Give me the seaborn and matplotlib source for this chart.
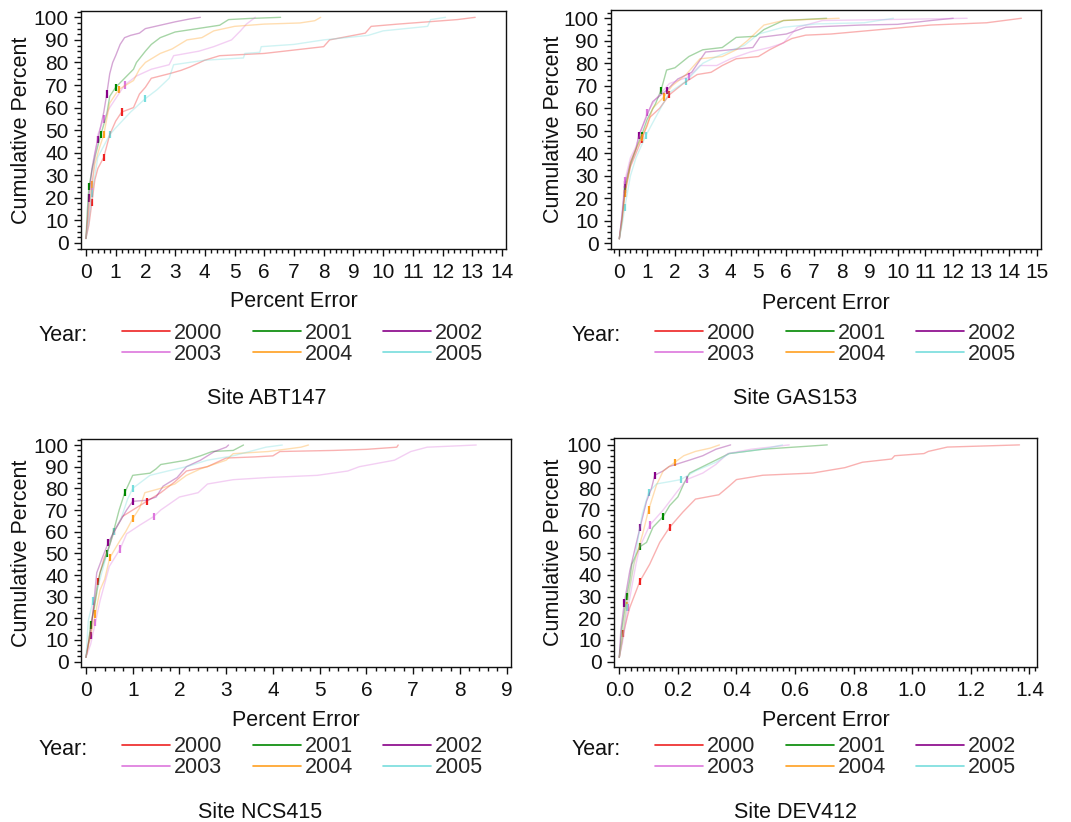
import numpy as np
import pandas as pd
import seaborn as sns
import matplotlib.pyplot as plt
from matplotlib.lines import Line2D
from matplotlib.ticker import MultipleLocator, FormatStrFormatter

years = ['2000', '2001', '2002', '2003', '2004', '2005']
cores = ['#EE2222', '#008800', '#880088', '#DD77DD', '#FFA020', '#77DDDD']

# ---- Site ABT147 ----
abt_x00 = [0, 0.1, 0.2, 0.3, 0.4, 0.6, 0.8, 1.0, 1.2, 1.6, 1.8, 2.0, 2.2, 2.8, 3.2, 3.5, 4.0, 4.5, 6.0, 7.0, 8.0, 8.2, 9.0, 9.4, 9.6, 10.5, 11.5, 12.5, 13.1]
abt_y00 = [2, 8, 18, 28, 33, 38, 48, 54, 58, 60, 66, 69, 73, 75, 76.5, 78, 81, 83, 84, 85.5, 87, 90, 92, 93, 96, 97, 98, 99, 100]
abt_x01 = [0, 0.05, 0.1, 0.2, 0.3, 0.5, 0.7, 0.8, 1.0, 1.3, 1.6, 1.7, 2.0, 2.2, 2.5, 3.0, 3.5, 4.0, 4.5, 4.8, 5.5, 6.55]
abt_y01 = [2, 15, 25, 32, 38, 48, 57, 65, 69, 73, 77, 80, 85, 88, 91, 93.5, 94.5, 95.5, 96.5, 99, 99.5, 100]
abt_x02 = [0, 0.05, 0.1, 0.2, 0.3, 0.4, 0.5, 0.6, 0.7, 0.8, 0.9, 1.0, 1.15, 1.3, 1.5, 1.8, 2.0, 2.5, 3.0, 3.5, 3.85]
abt_y02 = [2, 10, 20, 33, 40, 46, 52, 58, 66, 75, 80, 83, 88, 91, 92, 93, 95, 96.5, 98, 99.3, 100]
abt_x03 = [0, 0.1, 0.2, 0.3, 0.4, 0.6, 0.8, 1.1, 1.3, 1.7, 2.2, 2.8, 2.95, 3.8, 4.3, 4.9, 5.2, 5.4, 5.7]
abt_y03 = [2, 12, 25, 38, 48, 55, 60, 66, 70, 74, 77, 79, 83, 85, 87, 90, 94, 97, 100]
abt_x04 = [0, 0.1, 0.2, 0.3, 0.45, 0.6, 0.7, 0.8, 1.1, 1.6, 1.8, 2.0, 2.5, 2.9, 3.4, 3.9, 4.3, 5.0, 6.0, 7.2, 7.7, 7.9]
abt_y04 = [2, 15, 26, 35, 42, 48, 55, 62, 68, 72, 77, 80, 84, 86, 90, 91, 94, 96, 97, 97.5, 98.5, 100]
abt_x05 = [0, 0.1, 0.2, 0.4, 0.6, 0.8, 1.0, 1.5, 2.0, 2.4, 2.8, 2.95, 4.0, 5.3, 5.35, 5.85, 5.9, 7.0, 8.0, 9.5, 10.0, 11.5, 11.6, 12.1]
abt_y05 = [2, 10, 22, 38, 43, 48, 51, 58, 64, 68, 73, 79, 81, 82, 84, 84.5, 87, 88, 90, 92, 94, 96, 99, 100]

# ---- Site GAS153 ----
gas_x00 = [0, 0.1, 0.2, 0.4, 0.6, 0.8, 1.1, 1.45, 1.8, 2.3, 2.8, 3.3, 3.7, 4.2, 5.0, 5.4, 6.2, 6.7, 7.6, 9.4, 11.2, 13.2, 14.45]
gas_y00 = [2, 10, 22, 34, 40, 46, 56, 60, 66, 71, 75, 76, 79, 82, 83, 86, 91, 92.5, 93, 95, 97, 98, 100]
gas_x01 = [0, 0.1, 0.2, 0.4, 0.6, 0.8, 1.0, 1.3, 1.5, 1.7, 2.0, 2.2, 2.5, 3.0, 3.7, 4.2, 4.9, 5.2, 5.9, 7.45]
gas_y01 = [2, 12, 24, 35, 42, 48, 55, 62, 68, 77, 78, 80, 83, 86, 87, 91.5, 92, 95, 99, 100]
gas_x02 = [0, 0.1, 0.2, 0.4, 0.6, 0.7, 1.0, 1.2, 1.7, 2.1, 2.6, 3.1, 4.0, 4.8, 5.05, 6.0, 6.7, 8.7, 10.0, 11.2, 12.0]
gas_y02 = [2, 12, 26, 36, 42, 48, 57, 63, 68, 73, 76, 85, 86, 87, 91.5, 93, 96, 97, 97.3, 99, 100]
gas_x03 = [0, 0.1, 0.2, 0.4, 0.6, 1.0, 1.3, 1.8, 2.5, 2.9, 3.5, 4.0, 4.7, 5.4, 5.9, 6.4, 7.3, 10.0, 12.5]
gas_y03 = [2, 14, 28, 38, 43, 58, 64, 71, 74, 79, 79, 82, 85, 87, 89, 96, 99, 99.5, 100]
gas_x04 = [0, 0.1, 0.2, 0.4, 0.6, 0.8, 1.0, 1.2, 1.6, 1.9, 2.4, 2.9, 3.7, 4.2, 4.6, 5.2, 5.9, 7.9]
gas_y04 = [2, 10, 22, 36, 42, 47, 52, 60, 65, 70, 75, 82, 83, 86, 90, 97, 99, 100]
gas_x05 = [0, 0.1, 0.2, 0.4, 0.6, 0.96, 1.35, 1.8, 2.4, 3.0, 3.5, 4.5, 5.0, 5.9, 7.1, 8.8, 9.85]
gas_y05 = [2, 8, 16, 30, 38, 48, 57, 67, 72, 80, 83, 88, 93, 96, 97.5, 98, 100]

# ---- Site NCS415 ----
ncs_x00 = [0, 0.1, 0.25, 0.39, 0.48, 0.6, 0.78, 1.0, 1.3, 1.6, 1.9, 2.15, 2.6, 3.0, 3.6, 4.0, 4.15, 5.3, 6.0, 6.65, 6.68]
ncs_y00 = [2, 15, 37, 48, 52, 60, 67, 70, 74, 78, 83, 88, 90, 94, 94.5, 95, 97, 97.5, 98, 99, 100]
ncs_x01 = [0, 0.05, 0.1, 0.18, 0.3, 0.45, 0.6, 0.71, 0.83, 1.0, 1.37, 1.5, 1.6, 2.15, 2.45, 2.7, 3.15, 3.37]
ncs_y01 = [2, 8, 17, 25, 41, 50, 61, 70, 78, 86, 87, 89, 91, 93, 95, 97, 97.5, 100]
ncs_x02 = [0, 0.05, 0.1, 0.23, 0.35, 0.48, 0.6, 0.87, 1.0, 1.3, 1.5, 1.65, 1.95, 2.15, 2.45, 2.6, 2.75, 3.0, 3.05]
ncs_y02 = [2, 8, 12, 41, 48, 55, 60, 70, 74, 74.5, 76, 81, 85, 90, 93, 95, 97, 99, 100]
ncs_x03 = [0, 0.1, 0.2, 0.3, 0.5, 0.73, 0.87, 1.15, 1.45, 1.6, 2.0, 2.4, 2.6, 3.15, 3.9, 4.95, 5.6, 5.85, 6.6, 6.95, 7.3, 8.35]
ncs_y03 = [2, 8, 18, 28, 44, 52, 59, 63, 67, 70, 76, 78, 82, 84, 85, 86, 88, 90, 93, 97, 99, 100]
ncs_x04 = [0, 0.1, 0.2, 0.3, 0.4, 0.51, 0.73, 0.85, 1.0, 1.15, 1.26, 1.6, 1.9, 2.15, 2.45, 3.0, 3.15, 3.9, 4.6, 4.76]
ncs_y04 = [2, 12, 22, 33, 38, 48, 56, 60, 66, 71, 78, 80, 82, 86, 89, 93, 96, 97, 99, 100]
ncs_x05 = [0, 0.05, 0.15, 0.3, 0.45, 0.6, 0.75, 0.89, 1.0, 1.37, 1.75, 2.15, 2.6, 3.15, 3.85, 4.2]
ncs_y05 = [2, 19, 28, 38, 50, 60, 66, 75, 80, 86, 88, 90, 93, 95, 99, 100]

# ---- Site DEV412 ----
dev_x00 = [0, 0.005, 0.014, 0.028, 0.036, 0.07, 0.104, 0.138, 0.172, 0.217, 0.26, 0.34, 0.375, 0.4, 0.49, 0.66, 0.77, 0.83, 0.93, 0.94, 1.04, 1.055, 1.12, 1.366]
dev_y00 = [2, 6, 13, 21, 25, 37, 45, 55, 62, 69, 75, 77, 81, 84, 86, 87, 89.5, 92, 93.5, 95, 96, 97, 99, 100]
dev_x01 = [0, 0.01, 0.025, 0.036, 0.043, 0.07, 0.093, 0.115, 0.15, 0.172, 0.2, 0.22, 0.24, 0.285, 0.33, 0.375, 0.49, 0.71]
dev_y01 = [2, 16, 30, 38, 45, 53, 55, 62, 67, 72, 76, 82, 87, 90, 93, 96, 98, 100]
dev_x02 = [0, 0.005, 0.017, 0.036, 0.05, 0.071, 0.093, 0.11, 0.121, 0.15, 0.17, 0.24, 0.285, 0.33, 0.38]
dev_y02 = [2, 14, 27, 42, 50, 62, 74, 80, 86, 88, 90, 93, 95, 98, 100]
dev_x03 = [0, 0.01, 0.03, 0.057, 0.07, 0.104, 0.15, 0.195, 0.23, 0.285, 0.33, 0.37, 0.45, 0.58]
dev_y03 = [2, 8, 25, 45, 53, 63, 70, 78, 84, 87, 91, 96, 98, 100]
dev_x04 = [0, 0.01, 0.025, 0.05, 0.08, 0.1, 0.127, 0.15, 0.19, 0.22, 0.26, 0.31, 0.342]
dev_y04 = [2, 10, 26, 45, 59, 70, 81.5, 88, 92, 95, 97, 98.5, 100]
dev_x05 = [0, 0.01, 0.025, 0.05, 0.078, 0.1, 0.127, 0.17, 0.21, 0.26, 0.33, 0.375, 0.49, 0.557]
dev_y05 = [2, 10, 25, 45, 68, 78, 82, 83, 84, 88, 92, 96, 98, 100]

abt_x = [abt_x00, abt_x01, abt_x02, abt_x03, abt_x04, abt_x05]
abt_y = [abt_y00, abt_y01, abt_y02, abt_y03, abt_y04, abt_y05]
gas_x = [gas_x00, gas_x01, gas_x02, gas_x03, gas_x04, gas_x05]
gas_y = [gas_y00, gas_y01, gas_y02, gas_y03, gas_y04, gas_y05]
ncs_x = [ncs_x00, ncs_x01, ncs_x02, ncs_x03, ncs_x04, ncs_x05]
ncs_y = [ncs_y00, ncs_y01, ncs_y02, ncs_y03, ncs_y04, ncs_y05]
dev_x = [dev_x00, dev_x01, dev_x02, dev_x03, dev_x04, dev_x05]
dev_y = [dev_y00, dev_y01, dev_y02, dev_y03, dev_y04, dev_y05]


def monta_df(xs, ys):
    linhas = []
    for ano, xx, yy in zip(years, xs, ys):
        for i, (a, b) in enumerate(zip(xx, yy)):
            linhas.append({'Year': ano, 'err': a, 'cum': b, 'idx': i})
    return pd.DataFrame(linhas)


sns.set_style("ticks")
plt.rcParams['font.family'] = ['Liberation Sans', 'DejaVu Sans']
plt.rcParams['axes.linewidth'] = 1.0

pal = dict(zip(years, cores))

fig = plt.figure(figsize=(10.71, 8.22), dpi=100)

# posicao dos eixos, limites, ticks, label coords, legenda, titulo
paineis = [
    ('ABT147', abt_x, abt_y, [0.0756, 0.6971, 0.3968, 0.2895], (-0.168, 14.135), (-2.66, 102.8), 1, 0.2, '%d',
     (-0.115, -0.176), (0.1139, 0.6073), (39, 335), (267, 398)),
    ('GAS153', gas_x, gas_y, [0.5705, 0.6971, 0.4015, 0.2908], (-0.298, 15.155), (-2.53, 103.7), 1, 0.2, '%d',
     (-0.109, -0.184), (0.6116, 0.6073), (572, 335), (795, 398)),
    ('NCS415', ncs_x, ncs_y, [0.0756, 0.1886, 0.4015, 0.2774], (-0.107, 9.093), (-2.45, 102.8), 1, 0.2, '%d',
     (-0.114, -0.189), (0.1139, 0.1041), (39, 749), (260, 812)),
    ('DEV412', dev_x, dev_y, [0.5733, 0.1886, 0.3950, 0.2786], (-0.018, 1.426), (-2.45, 103.2), 0.2, 0.02, '%.1f',
     (-0.118, -0.189), (0.6116, 0.1041), (572, 749), (795, 812)),
]

W, H = 1071, 822

for nome, xs, ys, pos, xlim, ylim, maj, mnr, fmt, lab, leg_pos, year_pos, tit_pos in paineis:
    ax = fig.add_axes(pos)
    df = monta_df(xs, ys)

    sns.lineplot(data=df, x='err', y='cum', hue='Year', palette=pal, estimator=None,
                 sort=False, lw=1.0, alpha=0.35, legend=False, ax=ax)
    marcas = df[df['idx'].isin([2, 5, 8])]
    sns.scatterplot(data=marcas, x='err', y='cum', hue='Year', palette=pal, marker='|',
                    s=28, linewidth=1.6, legend=False, ax=ax)

    ax.set_xlim(*xlim)
    ax.set_ylim(*ylim)
    ax.xaxis.set_major_locator(MultipleLocator(maj))
    ax.xaxis.set_minor_locator(MultipleLocator(mnr))
    ax.xaxis.set_major_formatter(FormatStrFormatter(fmt))
    ax.yaxis.set_major_locator(MultipleLocator(10))
    ax.yaxis.set_minor_locator(MultipleLocator(2.5))
    ax.tick_params(which='major', direction='out', length=5, width=1, labelsize=15, colors='#111111')
    ax.tick_params(which='minor', direction='out', length=3, width=1, colors='#111111')
    ax.tick_params(axis='x', pad=5)
    ax.tick_params(axis='y', pad=4)
    for s in ax.spines.values():
        s.set_visible(True)
        s.set_color('#111111')

    ax.set_xlabel('Percent Error', fontsize=15.5, color='#111111')
    ax.set_ylabel('Cumulative Percent', fontsize=15.5, color='#111111')
    ax.yaxis.set_label_coords(lab[0], 0.5)
    ax.xaxis.set_label_coords(0.5, lab[1])

    # legenda em 3 colunas x 2 linhas (ordem por coluna)
    ordem = [0, 3, 1, 4, 2, 5]
    handles = [Line2D([], [], color=cores[i], lw=1.2) for i in ordem]
    labels = [years[i] for i in ordem]
    ax.legend(handles, labels, loc='upper left', bbox_to_anchor=leg_pos, bbox_transform=fig.transFigure,
              ncol=3, frameon=False, fontsize=15.5, handlelength=2.23, handletextpad=0.19,
              columnspacing=1.4, labelspacing=0.0, borderpad=0, borderaxespad=0)

    fig.text(year_pos[0] / W, 1 - year_pos[1] / H, 'Year:', fontsize=15.5, va='center', ha='left', color='#111111')
    fig.text(tit_pos[0] / W, 1 - tit_pos[1] / H, 'Site ' + nome, fontsize=15.5, va='center', ha='center', color='#111111')

plt.savefig('out.png', dpi=100)
